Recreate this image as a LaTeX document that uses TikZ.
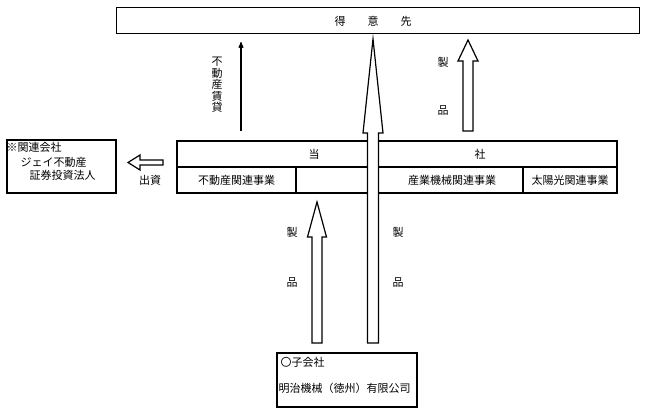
\documentclass[tikz,border=0pt]{standalone}
\usepackage{fontspec}
\setmainfont{Noto Sans CJK JP}
\usepackage{tikz}
\usetikzlibrary{
    arrows,
    positioning
}

% hollow arrow pointing up: x, y of tail, y of head base, y of tip, half shaft, half head
\newcommand{\uphollow}[6]{%
    \draw[hollow] ({#1-#5},#2) -- ({#1-#5},#3) -- ({#1-#6},#3) -- (#1,#4)
        -- ({#1+#6},#3) -- ({#1+#5},#3) -- ({#1+#5},#2) -- cycle;}

\begin{document}
\begin{tikzpicture}[x=1pt,y=-1pt,>=stealth',line width=1.1pt]
    \tikzset{
        txt/.style={inner sep=0pt, font=\fontsize{11}{12}\selectfont},
        box/.style={draw, line width=1.3pt},
        hollow/.style={draw, fill=white, line width=1.2pt, line join=miter}
    }
    \useasboundingbox (0,0) rectangle (645,413);

    % customer
    \node[box, minimum width=523pt, minimum height=26pt, anchor=north west] (cust) at (116,7) {};
    \node[txt] (custlbl) at (373,21) {得　　意　　先};

    % company
    \draw[box] (177,141) rectangle (617,193);
    \draw[line width=1.3pt] (177,167) -- (617,167);
    \draw[line width=1.3pt] (296,167) -- (296,193);
    \draw[line width=1.3pt] (523,167) -- (523,193);
    \node[txt] (toh) at (314,154) {当};
    \node[txt] (sha) at (480,154) {社};
    \node[txt] (realty) at (236.5,180) {不動産関連事業};
    \node[txt] (machine) at (452,180) {産業機械関連事業};
    \node[txt] (solar) at (570,180) {太陽光関連事業};

    % related company
    \draw[box] (7,140) rectangle (116,193);
    \node[txt, anchor=west] (rel1) at (6,147) {※関連会社};
    \node[txt, anchor=west] (rel2) at (20,162) {ジェイ不動産};
    \node[txt, anchor=west] (rel3) at (29,175) {証券投資法人};

    % subsidiary
    \draw[box] (277,353) rectangle (417,407);
    \node[txt, anchor=west] (sub1) at (280,362) {〇子会社};
    \node[txt, anchor=west] (sub2) at (278,388) {明治機械（徳州）有限公司};

    % rent
    \coordinate (rent-s) at (241,131);
    \coordinate (rent-e) at (241,42);
    \draw[->] (rent-s) -- (rent-e);
    \node[txt, align=center, font=\fontsize{11}{11.5}\selectfont] (rentlbl) at (217,85)
        {不\\動\\産\\賃\\貸};

    % products
    \uphollow{468}{131}{61}{40}{5}{10}
    \node[txt] (prod1a) at (443,62) {製};
    \node[txt] (prod1b) at (443,111) {品};

    \uphollow{317}{343}{237}{202}{5}{9.5}
    \node[txt] (prod2a) at (292,232) {製};
    \node[txt] (prod2b) at (292,283) {品};

    \uphollow{373}{343}{133}{39}{5.5}{10}
    \node[txt] (prod3a) at (398,232) {製};
    \node[txt] (prod3b) at (398,283) {品};

    % investment
    \draw[hollow] (163,160) -- (140,160) -- (140,155) -- (128,162.5)
        -- (140,170) -- (140,165) -- (163,165) -- cycle;
    \node[txt] (invest) at (150,180) {出資};
\end{tikzpicture}
\end{document}
